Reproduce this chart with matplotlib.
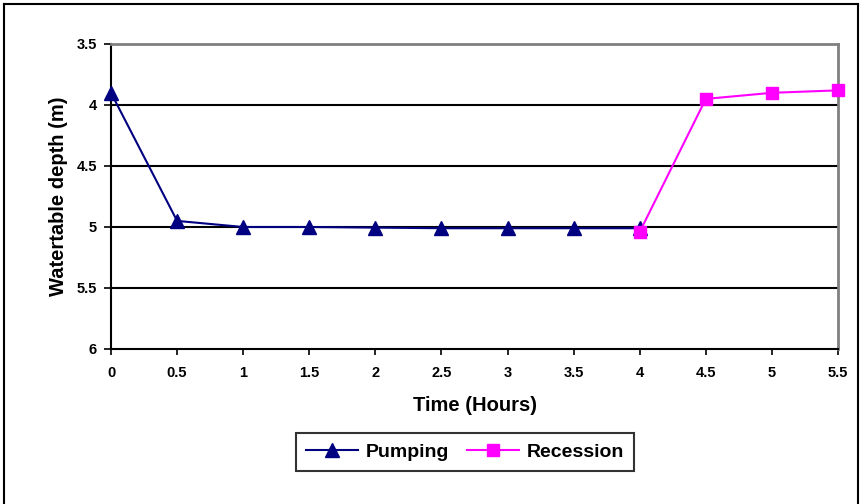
import matplotlib
matplotlib.use("Agg")
import matplotlib.pyplot as plt
from matplotlib.lines import Line2D

plt.rcParams['font.family'] = ['Liberation Sans', 'DejaVu Sans']

pump_t = [0, 0.5, 1, 1.5, 2, 2.5, 3, 3.5, 4]
pump_d = [3.90, 4.95, 5.0, 5.0, 5.005, 5.01, 5.01, 5.01, 5.01]
rec_t = [4, 4.5, 5, 5.5]
rec_d = [5.04, 3.95, 3.90, 3.88]
x_ticks = [0, 0.5, 1, 1.5, 2, 2.5, 3, 3.5, 4, 4.5, 5, 5.5]
x_labels = ['0', '0.5', '1', '1.5', '2', '2.5', '3', '3.5', '4', '4.5', '5', '5.5']
y_ticks = [3.5, 4, 4.5, 5, 5.5, 6]
y_labels = ['3.5', '4', '4.5', '5', '5.5', '6']

fig = plt.figure(figsize=(8.63, 5.04), dpi=100)
ax = fig.add_axes([111/863, 1-349/504, (838-111)/863, 305/504])

l1, = ax.plot(pump_t, pump_d, color='#000080', lw=1.5, marker='^', markersize=10,
              markerfacecolor='#000080', markeredgecolor='#000080', label='Pumping',
              zorder=3, clip_on=False)
l2, = ax.plot(rec_t, rec_d, color='#FF00FF', lw=1.5, marker='s', markersize=8,
              markerfacecolor='#FF00FF', markeredgecolor='#FF00FF', label='Recession',
              zorder=4, clip_on=False)

ax.set_xlim(0, 5.5)
ax.set_ylim(6, 3.5)
ax.set_xticks(x_ticks)
ax.set_xticklabels(x_labels, fontsize=10.5, fontweight='bold')
ax.set_yticks(y_ticks)
ax.set_yticklabels(y_labels, fontsize=10.5, fontweight='bold')
ax.tick_params(axis='x', direction='out', length=4, width=1.2, pad=8)
ax.tick_params(axis='y', direction='out', length=5, width=1.2, pad=5)

for y in [4, 4.5, 5, 5.5]:
    ax.axhline(y, color='black', lw=1.5, zorder=1)

ax.spines['left'].set_color('black')
ax.spines['left'].set_linewidth(1.5)
ax.spines['bottom'].set_color('black')
ax.spines['bottom'].set_linewidth(1.5)
ax.spines['top'].set_color('#808080')
ax.spines['top'].set_linewidth(2)
ax.spines['right'].set_color('#808080')
ax.spines['right'].set_linewidth(2)

ax.set_xlabel('Time (Hours)', fontsize=14.5, fontweight='bold', labelpad=12)
ax.set_ylabel('Watertable depth (m)', fontsize=14.5, fontweight='bold', labelpad=6)

leg = fig.legend(handles=[l1, l2], loc='center',
                 bbox_to_anchor=(465/863, 1-452/504), ncol=2, frameon=True,
                 fancybox=False, edgecolor='black',
                 prop={'weight': 'bold', 'size': 14}, handlelength=2.7,
                 columnspacing=0.9, handletextpad=0.4, borderpad=0.5)
leg.get_frame().set_linewidth(1.5)

# outer border (open at bottom)
for xs, ys in [([4/863, 4/863], [0, 1-4/504]), ([4/863, 858/863], [1-4/504, 1-4/504]),
               ([858/863, 858/863], [0, 1-4/504])]:
    fig.add_artist(Line2D(xs, ys, color='black', lw=1.5, transform=fig.transFigure))

fig.savefig('out.png', dpi=100)
